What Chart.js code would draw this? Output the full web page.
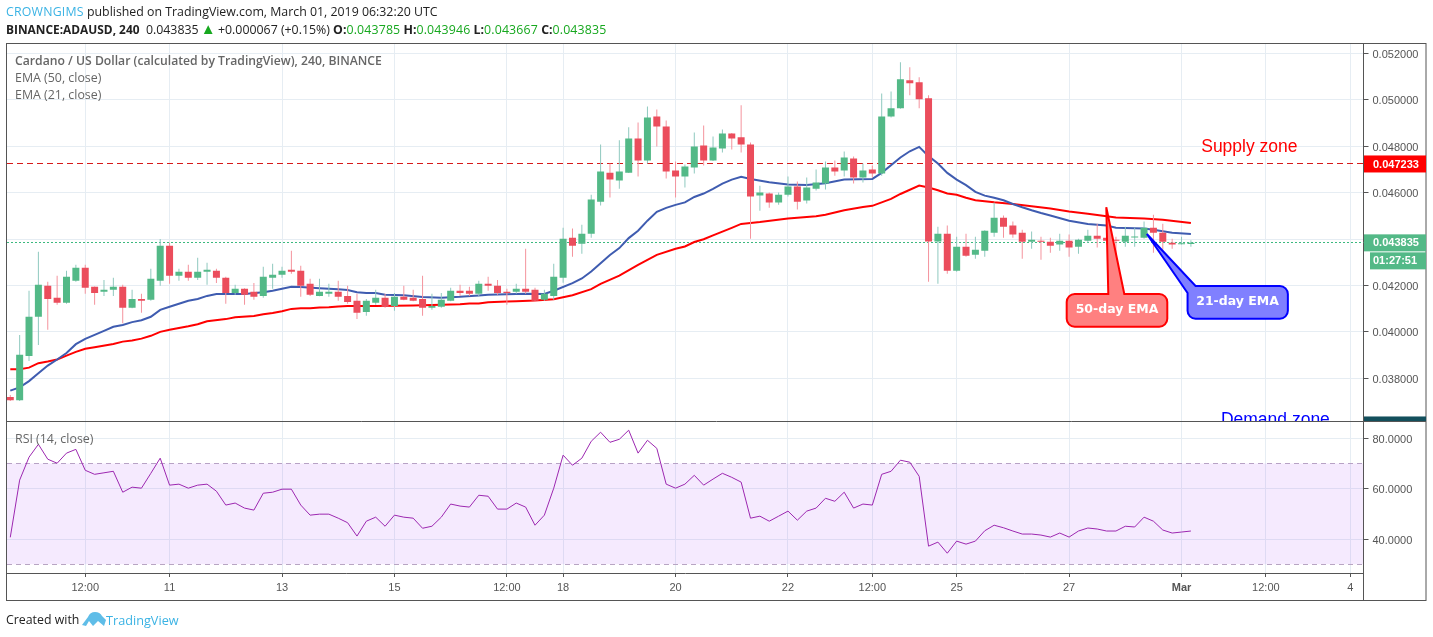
<!DOCTYPE html>
<html>
<head>
<meta charset="utf-8">
<title>Cardano / US Dollar</title>
<script src="https://cdn.jsdelivr.net/npm/chart.js@4/dist/chart.umd.min.js"></script>
<style>
    html, body { margin: 0; padding: 0; background: #fff; width: 1433px; height: 637px; overflow: hidden; }
    #wrap { position: relative; width: 1433px; height: 637px; font-family: "Open Sans", sans-serif; }
    canvas { position: absolute; left: 0; top: 0; }
    .txt { position: absolute; white-space: nowrap; line-height: 16px; }
    .head { font-size: 12.35px; color: #222; left: 6px; }
    .blue { color: #3bb3e4; }
    .up { color: #17a81f; letter-spacing: .15px; }
    .pane { left: 15px; font-size: 12.4px; color: #666; }
</style>
</head>
<body>
<div id="wrap">
    <canvas id="chart" width="1433" height="637"></canvas>
    <div class="txt head" style="top:4px"><span class="blue" style="letter-spacing:.2px">CROWNGIMS</span> published on TradingView.com, March 01, 2019 06:32:20 UTC</div>
    <div class="txt head" style="top:21px"><b style="font-size:11.9px">BINANCE:ADAUSD, 240</b>&nbsp; 0.043835 <span class="up" style="font-size:15px;line-height:12px;margin:0 -1px">▲</span> +0.000067 (+0.15%) <b>O:</b><span class="up">0.043785</span> <b>H:</b><span class="up">0.043946</span> <b>L:</b><span class="up">0.043667</span> <b>C:</b><span class="up">0.043835</span></div>
    <div class="txt pane" style="top:53px;font-weight:600;font-size:12.2px">Cardano / US Dollar (calculated by TradingView), 240, BINANCE</div>
    <div class="txt pane" style="top:70px">EMA (50, close)</div>
    <div class="txt pane" style="top:87px">EMA (21, close)</div>
    <div class="txt pane" style="top:431px">RSI (14, close)</div>
    <div class="txt head" style="top:612px;color:#222">Created with</div>
    <svg style="position:absolute;left:82px;top:611px" width="24" height="16" viewBox="0 0 24 16">
        <path d="M0 14 L6 6 Q8 1 13 1 Q18 1 20 5 L24 9 L22 15 L16 10 L11 15 L7 10 L4 15 Z" fill="#5fbde8"/>
    </svg>
    <div class="txt head blue" style="top:612px;left:106px;font-size:12.7px">TradingView</div>
</div>
<script>
// Candles, one per 4h bar
const opens = [0.03719,0.03706,0.03896,0.04065,0.04199,0.04147,0.04125,0.04220,0.04276,0.04194,
    0.04173,0.04181,0.04194,0.04104,0.04142,0.04138,0.04220,0.04371,0.04242,0.04259,
    0.04233,0.04259,0.04263,0.04233,0.04168,0.04186,0.04173,0.04155,0.04233,0.04246,
    0.04268,0.04263,0.04207,0.04155,0.04164,0.04173,0.04155,0.04134,0.04086,0.04125,
    0.04147,0.04112,0.04151,0.04147,0.04142,0.04104,0.04108,0.04134,0.04177,0.04177,
    0.04164,0.04207,0.04199,0.04173,0.04173,0.04186,0.04181,0.04138,0.04155,0.04233,
    0.04406,0.04380,0.04423,0.04561,0.04686,0.04652,0.04686,0.04833,0.04738,0.04928,
    0.04885,0.04695,0.04669,0.04708,0.04803,0.04738,0.04790,0.04855,0.04838,0.04807,
    0.04587,0.04596,0.04557,0.04591,0.04626,0.04566,0.04617,0.04639,0.04708,0.04695,
    0.04747,0.04665,0.04699,0.04682,0.04928,0.04963,0.05084,0.05075,0.05006,0.04389,
    0.04423,0.04263,0.04367,0.04332,0.04350,0.04427,0.04492,0.04458,0.04427,0.04388,
    0.04393,0.04388,0.04376,0.04393,0.04367,0.04393,0.04414,0.04406,0.04397,0.04388,
    0.04407,0.04406,0.04449,0.04427,0.04384,0.04377,0.043785];
const closes = [0.03706,0.03901,0.04065,0.04203,0.04142,0.04125,0.04237,0.04276,0.04190,0.04168,
    0.04181,0.04194,0.04104,0.04142,0.04134,0.04229,0.04371,0.04242,0.04259,0.04233,
    0.04259,0.04268,0.04233,0.04168,0.04186,0.04160,0.04151,0.04237,0.04246,0.04263,
    0.04259,0.04199,0.04160,0.04173,0.04173,0.04151,0.04129,0.04082,0.04134,0.04147,
    0.04108,0.04151,0.04138,0.04134,0.04104,0.04112,0.04138,0.04177,0.04168,0.04164,
    0.04207,0.04199,0.04168,0.04167,0.04186,0.04173,0.04134,0.04164,0.04237,0.04401,
    0.04371,0.04423,0.04570,0.04691,0.04656,0.04691,0.04833,0.04738,0.04924,0.04885,
    0.04691,0.04669,0.04712,0.04799,0.04738,0.04794,0.04855,0.04833,0.04807,0.04583,
    0.04600,0.04557,0.04591,0.04626,0.04561,0.04622,0.04643,0.04708,0.04691,0.04751,
    0.04665,0.04695,0.04682,0.04928,0.04963,0.05088,0.05071,0.05002,0.04389,0.04423,
    0.04263,0.04367,0.04328,0.04354,0.04436,0.04492,0.04453,0.04419,0.04388,0.04397,
    0.04388,0.04371,0.04393,0.04363,0.04397,0.04414,0.04401,0.04393,0.04393,0.04414,
    0.04410,0.04449,0.04427,0.04388,0.04376,0.04380,0.043835];
const highs = [0.03728,0.03987,0.04177,0.04345,0.04216,0.04242,0.04263,0.04289,0.04289,0.04196,
    0.04224,0.04233,0.04203,0.04181,0.04164,0.04272,0.04400,0.04384,0.04272,0.04289,
    0.04319,0.04298,0.04272,0.04237,0.04203,0.04188,0.04211,0.04281,0.04294,0.04281,
    0.04350,0.04285,0.04229,0.04229,0.04207,0.04220,0.04199,0.04164,0.04142,0.04181,
    0.04164,0.04168,0.04199,0.04181,0.04242,0.04164,0.04168,0.04190,0.04203,0.04194,
    0.04220,0.04237,0.04224,0.04186,0.04207,0.04358,0.04190,0.04181,0.04294,0.04449,
    0.04445,0.04462,0.04591,0.04807,0.04725,0.04825,0.04881,0.04902,0.04971,0.04958,
    0.04911,0.04734,0.04721,0.04859,0.04889,0.04842,0.04872,0.04857,0.04976,0.04816,
    0.04630,0.04600,0.04600,0.04669,0.04648,0.04665,0.04699,0.04734,0.04738,0.04777,
    0.04755,0.04725,0.04717,0.05027,0.05036,0.05161,0.05140,0.05097,0.05019,0.04453,
    0.04458,0.04410,0.04423,0.04410,0.04438,0.04557,0.04501,0.04475,0.04440,0.04432,
    0.04410,0.04406,0.04423,0.04419,0.04401,0.04440,0.04466,0.04458,0.04410,0.04453,
    0.04449,0.04475,0.04505,0.04466,0.04401,0.04410,0.043946];
const lows = [0.03702,0.03702,0.03875,0.03944,0.04009,0.04117,0.04121,0.04216,0.04164,0.04117,
    0.04155,0.04155,0.04037,0.04102,0.04082,0.04134,0.04199,0.04207,0.04220,0.04220,
    0.04224,0.04203,0.04211,0.04121,0.04160,0.04117,0.04138,0.04147,0.04186,0.04233,
    0.04250,0.04151,0.04155,0.04153,0.04151,0.04134,0.04121,0.04056,0.04069,0.04117,
    0.04104,0.04091,0.04136,0.04132,0.04069,0.04095,0.04104,0.04132,0.04155,0.04155,
    0.04155,0.04177,0.04160,0.04117,0.04164,0.04164,0.04132,0.04134,0.04138,0.04212,
    0.04324,0.04337,0.04406,0.04544,0.04579,0.04617,0.04684,0.04669,0.04725,0.04799,
    0.04661,0.04579,0.04622,0.04682,0.04717,0.04736,0.04773,0.04786,0.04773,0.04401,
    0.04522,0.04535,0.04548,0.04583,0.04527,0.04553,0.04609,0.04613,0.04673,0.04669,
    0.04639,0.04643,0.04665,0.04673,0.04924,0.04961,0.05019,0.04963,0.04216,0.04207,
    0.04250,0.04259,0.04324,0.04315,0.04324,0.04410,0.04406,0.04406,0.04315,0.04358,
    0.04311,0.04341,0.04350,0.04324,0.04337,0.04384,0.04363,0.04376,0.04194,0.04367,
    0.04367,0.04401,0.04341,0.04354,0.04358,0.04376,0.043667];

// EMA lines, read at their visible bends (bar index / price)
const ema21Bars = [0,1,2,3,4,5,6,7,8,9,10,11,12,13,14,15,16,17,18,19,20,21,22,25,27,28,29,30,31,33,35,36,37,38,39,40,42,44,46,48,50,
    51,55,57,58,60,61,62,63,64,65,66,67,68,69,70,71,72,73,74,75,76,77,78,79,81,83,85,87,89,92,93,95,96,97,98,99,100,
    101,102,103,104,105,106,107,108,109,110,111,113,115,117,118,121,122,124,126];
const ema21Values = [0.03747,0.03761,0.03788,0.03822,0.03855,0.03881,0.03909,0.03947,0.03970,0.03987,0.04004,0.04022,0.04030,0.04042,0.04050,0.04065,0.04095,0.04108,0.04121,0.04134,0.04142,0.04155,0.04163,0.04163,0.04171,0.04177,0.04186,0.04194,0.04193,0.04188,0.04184,0.04180,0.04171,0.04167,0.04167,0.04160,0.04158,0.04150,0.04147,0.04151,0.04157,
    0.04160,0.04164,0.04163,0.04177,0.04210,0.04230,0.04260,0.04296,0.04331,0.04361,0.04404,0.04436,0.04479,0.04517,0.04534,0.04547,0.04558,0.04581,0.04596,0.04616,0.04639,0.04656,0.04668,0.04659,0.04645,0.04635,0.04633,0.04640,0.04656,0.04659,0.04685,0.04751,0.04778,0.04797,0.04757,0.04725,0.04685,
    0.04656,0.04632,0.04603,0.04587,0.04578,0.04567,0.04551,0.04537,0.04524,0.04512,0.04501,0.04479,0.04465,0.04458,0.04449,0.04445,0.04440,0.04427,0.04422];
const ema50Bars = [0,1,2,3,4,5,6,7,8,9,11,12,13,14,15,16,17,19,20,21,23,24,26,27,28,29,30,31,32,33,34,35,36,39,43,46,48,49,50,
    51,53,54,56,58,60,62,63,65,67,69,71,72,73,74,75,77,78,80,83,86,87,89,91,92,94,95,97,98,99,100,
    101,102,103,105,107,109,111,113,115,118,121,123,126];
const ema50Values = [0.03839,0.03839,0.03846,0.03865,0.03872,0.03881,0.03898,0.03914,0.03927,0.03934,0.03948,0.03958,0.03963,0.03971,0.03983,0.04000,0.04009,0.04024,0.04033,0.04046,0.04055,0.04063,0.04068,0.04076,0.04081,0.04089,0.04099,0.04102,0.04102,0.04105,0.04106,0.04109,0.04111,0.04112,0.04114,0.04117,0.04119,0.04122,0.04122,
    0.04128,0.04131,0.04132,0.04135,0.04141,0.04158,0.04184,0.04207,0.04242,0.04289,0.04332,0.04358,0.04368,0.04387,0.04399,0.04416,0.04448,0.04465,0.04473,0.04488,0.04498,0.04505,0.04524,0.04538,0.04543,0.04573,0.04594,0.04630,0.04622,0.04610,0.04596,
    0.04591,0.04578,0.04567,0.04558,0.04551,0.04541,0.04531,0.04519,0.04509,0.04493,0.04488,0.04483,0.04469];

// RSI, one value per bar
const rsiValues = [40.7,63.4,72.5,77.6,71.7,70.1,74.1,75.6,67.3,65.7,66.3,66.9,58.6,60.6,60.2,66.1,72.1,61.4,61.8,60.2,
    61.4,61.8,59.0,53.5,54.3,52.3,51.5,58.2,58.6,59.8,59.8,53.5,49.5,49.9,49.9,48.3,46.5,41.2,47.1,48.7,
    45.1,49.5,48.7,48.3,44.3,45.1,48.7,53.9,53.1,52.7,57.4,57.0,51.9,51.9,54.3,52.7,45.5,49.5,60.2,73.3,
    69.3,72.1,78.8,82.4,78.4,79.6,83.2,74.1,79.2,76.0,61.8,60.2,61.8,65.3,61.4,63.8,66.1,64.5,62.6,48.3,
    49.1,47.1,49.1,51.1,47.5,51.1,52.3,56.2,55.0,58.6,52.3,53.9,53.5,65.7,66.9,71.3,70.5,64.9,37.2,38.8,
    34.4,39.2,38.0,39.2,43.3,45.5,44.5,43.2,42.0,42.0,41.6,40.8,42.4,40.8,43.2,44.4,44.0,43.2,43.2,45.1,
    44.8,48.7,47.1,43.6,42.4,42.8,43.2];

// Axes
const xTickBars = [8,17,29,41,53,59,71,83,92,101,113,125,134,143];
const xTickLabels = ['12:00','11','13','15','12:00','18','20','22','12:00','25','27','Mar','12:00','4'];
const priceTicks = [0.052,0.05,0.048,0.046,0.044,0.042,0.04,0.038];
const rsiTicks = [80,60,40];
const rsiBand = [70,30];
const resistanceLevel = 0.047233;
const lastPrice = 0.043835;
const demandLevel = 0.03599;
const countdown = '01:27:51';

const xMin = -0.35, xMax = 144.42;
const GREEN = '#53b987', RED = '#eb4d5c';
const AXIS_FONT = 'Liberation Sans';

const bars = opens.map((_, i) => i);
const isUp = i => closes[i] >= opens[i];
const zip = (xs, ys) => xs.map((x, i) => ({ x: x, y: ys[i] }));
const hline = v => [{ x: xMin, y: v }, { x: xMax, y: v }];

function tagAt(ctx, y, left, right, color, text) {
    ctx.fillStyle = color;
    ctx.fillRect(left, y - 8.5, right - left, 17);
    if (text) {
        ctx.fillStyle = '#fff';
        ctx.font = 'bold 11px "' + AXIS_FONT + '"';
        ctx.textAlign = 'left';
        ctx.textBaseline = 'middle';
        ctx.fillText(text, left + 9, y + 0.5);
    }
}

// Rounded box with a pointer: topPts sit on the top edge, cornerPts replace the top left corner
function bubble(ctx, box, topPts, cornerPts, fill, stroke, text, textX, textY) {
    const r = 8;
    ctx.beginPath();
    ctx.moveTo(box.l + r, box.t);
    topPts.forEach(p => ctx.lineTo(p[0], p[1]));
    ctx.lineTo(box.r - r, box.t);
    ctx.arcTo(box.r, box.t, box.r, box.t + r, r);
    ctx.arcTo(box.r, box.b, box.r - r, box.b, r);
    ctx.arcTo(box.l, box.b, box.l, box.b - r, r);
    if (cornerPts.length) {
        cornerPts.forEach(p => ctx.lineTo(p[0], p[1]));
    } else {
        ctx.arcTo(box.l, box.t, box.l + r, box.t, r);
    }
    ctx.closePath();
    ctx.fillStyle = fill;
    ctx.fill();
    ctx.strokeStyle = stroke;
    ctx.lineWidth = 2;
    ctx.stroke();
    ctx.fillStyle = '#fff';
    ctx.font = 'bold 12.5px "DejaVu Sans"';
    ctx.textAlign = 'center';
    ctx.textBaseline = 'middle';
    ctx.fillText(text, textX, textY);
}

// Dashed horizontal levels, kept on a whole pixel row so they stay sharp
function dashedLevel(ctx, scale, xScale, value, color, dash) {
    const py = Math.floor(scale.getPixelForValue(value)) + 0.5;
    ctx.strokeStyle = color;
    ctx.lineWidth = 1;
    ctx.setLineDash(dash);
    ctx.beginPath();
    ctx.moveTo(xScale.left, py);
    ctx.lineTo(xScale.right, py);
    ctx.stroke();
}

const levels = {
    id: 'levels',
    beforeDatasetsDraw(chart) {
        const { x, y, yRsi } = chart.scales;
        const ctx = chart.ctx;
        ctx.save();
        dashedLevel(ctx, y, x, resistanceLevel, '#d61a1a', [6, 4]);
        dashedLevel(ctx, y, x, lastPrice, '#3bb97f', [2, 2]);
        rsiBand.forEach(v => dashedLevel(ctx, yRsi, x, v, '#b9a8c2', [5, 4]));
        ctx.restore();
    }
};

// Frame, axis tags and the drawn-on annotations
const overlay = {
    id: 'overlay',
    afterDraw(chart) {
        const ctx = chart.ctx;
        const { x, y } = chart.scales;
        const right = y.right;

        ctx.save();
        ctx.strokeStyle = '#555';
        ctx.lineWidth = 1;
        ctx.strokeRect(x.left - 0.5, y.top + 0.5, right - x.left + 0.5, x.bottom - y.top);
        ctx.beginPath();
        ctx.moveTo(x.left, y.bottom + 0.5);
        ctx.lineTo(right, y.bottom + 0.5);
        ctx.moveTo(Math.floor(x.right) + 0.5, x.top);
        ctx.lineTo(Math.floor(x.right) + 0.5, x.bottom);
        ctx.stroke();

        // price tags on the right axis
        const tagL = Math.floor(x.right) + 1, tagR = right;
        tagAt(ctx, y.getPixelForValue(resistanceLevel), tagL, tagR, '#ff0000', resistanceLevel.toFixed(6));
        const lastY = y.getPixelForValue(lastPrice);
        tagAt(ctx, lastY, tagL, tagR, GREEN, lastPrice.toFixed(6));
        tagAt(ctx, lastY + 18, tagL + 6, tagR, GREEN, '');
        ctx.fillStyle = '#fff';
        ctx.font = 'bold 11px "' + AXIS_FONT + '"';
        ctx.textAlign = 'left';
        ctx.textBaseline = 'middle';
        ctx.fillText(countdown, tagL + 9, lastY + 18.5);

        // zone labels, the lower one is cut by the pane edge
        ctx.save();
        ctx.beginPath();
        ctx.rect(x.left, y.top, right - x.left, y.bottom - y.top);
        ctx.clip();
        tagAt(ctx, y.getPixelForValue(demandLevel), tagL, tagR, '#134f5c', '');
        ctx.font = '17.5px "' + AXIS_FONT + '"';
        ctx.textAlign = 'left';
        ctx.fillStyle = '#ff0000';
        ctx.fillText('Supply zone', x.getPixelForValue(127.1), y.getPixelForValue(0.04796));
        ctx.fillStyle = '#0000ff';
        ctx.fillText('Demand zone', x.getPixelForValue(129.2), y.getPixelForValue(0.036204));
        ctx.restore();

        // callouts hang off the EMA they point at
        const rx = x.getPixelForValue(116.97), ry = y.getPixelForValue(0.045366);
        bubble(ctx, { l: rx - 39.6, r: rx + 61, t: ry + 86.7, b: ry + 119.4 },
            [[rx + 2, ry + 86.7], [rx, ry], [rx + 18, ry + 86.7]], [],
            '#ff8080', '#ff0000', '50-day EMA', rx + 10.7, ry + 102.7);
        const bx = x.getPixelForValue(121.3), by = y.getPixelForValue(0.044216);
        const bBox = { l: bx + 40.7, r: bx + 141, t: by + 52, b: by + 84.7 };
        bubble(ctx, bBox, [], [[bBox.l, bBox.t + 7], [bx, by], [bBox.l + 8, bBox.t]],
            '#8080ff', '#0000ff', '21-day EMA', bx + 90.7, by + 67.7);
        ctx.restore();
    }
};

const gridColor = '#e6edf3';

new Chart(document.getElementById('chart').getContext('2d'), {
    type: 'bar',
    data: {
        datasets: [
            // RSI band
            { type: 'line', data: hline(rsiBand[0]), yAxisID: 'yRsi', borderWidth: 0, pointRadius: 0, fill: '+1', backgroundColor: 'rgba(160, 60, 250, 0.105)', order: 20 },
            { type: 'line', data: hline(rsiBand[1]), yAxisID: 'yRsi', borderWidth: 0, pointRadius: 0, order: 20 },
            { type: 'line', data: zip(bars, rsiValues), yAxisID: 'yRsi', borderColor: '#9c27b0', borderWidth: 1, pointRadius: 0, order: 19 },
            // EMAs
            { type: 'line', data: zip(ema50Bars, ema50Values), yAxisID: 'y', borderColor: '#ff0000', borderWidth: 2, pointRadius: 0, order: 11 },
            { type: 'line', data: zip(ema21Bars, ema21Values), yAxisID: 'y', borderColor: '#3f5cb0', borderWidth: 2, pointRadius: 0, order: 10 },
            // candles: wick, then body on top
            {
                data: bars.map(i => ({ x: i, y: [lows[i], highs[i]] })),
                yAxisID: 'y', grouped: false, barThickness: 1, inflateAmount: 0, order: 2,
                backgroundColor: c => isUp(c.dataIndex) ? '#8fc9bf' : '#f4939d'
            },
            {
                data: bars.map(i => ({ x: i, y: [opens[i], closes[i]] })),
                yAxisID: 'y', grouped: false, barThickness: 7, inflateAmount: 0, minBarLength: 1, order: 1,
                backgroundColor: c => isUp(c.dataIndex) ? GREEN : RED
            }
        ]
    },
    options: {
        responsive: false,
        animation: false,
        events: [],
        layout: { autoPadding: false, padding: { left: 7, top: 43, right: 7, bottom: 37 } },
        plugins: { legend: { display: false }, tooltip: { enabled: false }, title: { display: false } },
        scales: {
            x: {
                type: 'linear',
                offset: false,
                min: xMin,
                max: xMax,
                afterBuildTicks: s => { s.ticks = xTickBars.map(v => ({ value: v })); },
                afterFit: s => { s.height = 27; },
                grid: { offset: false, color: gridColor, tickColor: '#555', tickLength: 4 },
                border: { color: '#555' },
                ticks: {
                    autoSkip: false,
                    maxRotation: 0,
                    padding: 4,
                    color: '#555',
                    font: c => ({ family: AXIS_FONT, size: 11, weight: c.tick && xTickLabels[xTickBars.indexOf(c.tick.value)] === 'Mar' ? 'bold' : 'normal' }),
                    callback: v => xTickLabels[xTickBars.indexOf(v)]
                }
            },
            y: {
                position: 'right',
                stack: 'panes',
                stackWeight: 378,
                weight: 1,
                min: 0.036161,
                max: 0.052444,
                afterBuildTicks: s => { s.ticks = priceTicks.map(v => ({ value: v })); },
                afterFit: s => { s.width = 62.5; },
                grid: { color: gridColor, tickColor: '#555', tickLength: 5 },
                border: { color: '#555' },
                ticks: { autoSkip: false, padding: 4, labelOffset: 1.5, color: '#555', font: { family: AXIS_FONT, size: 11 }, callback: v => v.toFixed(6) }
            },
            yRsi: {
                position: 'right',
                stack: 'panes',
                stackWeight: 152,
                weight: 2,
                min: 26.55,
                max: 86.85,
                afterBuildTicks: s => { s.ticks = rsiTicks.map(v => ({ value: v })); },
                afterFit: s => { s.width = 62.5; },
                grid: { color: gridColor, tickColor: '#555', tickLength: 5 },
                border: { color: '#555' },
                ticks: { autoSkip: false, padding: 4, labelOffset: 1.5, color: '#555', font: { family: AXIS_FONT, size: 11 }, callback: v => v.toFixed(4) }
            }
        }
    },
    plugins: [levels, overlay]
});
</script>
</body>
</html>
